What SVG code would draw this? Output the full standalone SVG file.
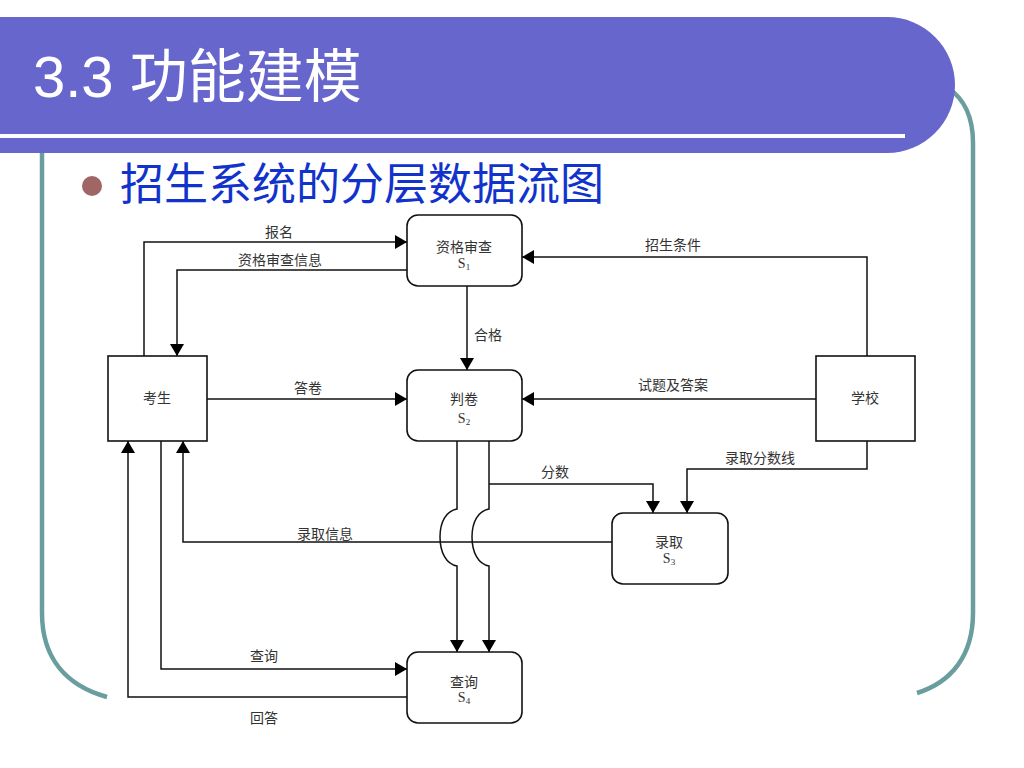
<svg xmlns="http://www.w3.org/2000/svg" width="1024" height="768" viewBox="0 0 1024 768">
<defs>
<marker id="ah" viewBox="0 0 12 14" refX="12" refY="7" markerWidth="12" markerHeight="14" markerUnits="userSpaceOnUse" orient="auto">
<path d="M0,0 L12,7 L0,14 Z" fill="#000"/>
</marker>
<style>
.frame{fill:none;stroke:#6A9E9E;stroke-width:4.5}
.box{fill:#fff;stroke:#111;stroke-width:1.6}
.ln{fill:none;stroke:#111;stroke-width:1.5}
.arr{fill:none;stroke:#111;stroke-width:1.5;marker-end:url(#ah)}
.t{font-family:"Noto Sans CJK SC","Liberation Serif",serif;font-size:14px;fill:#333;text-anchor:middle}
.tl{font-family:"Noto Sans CJK SC","Liberation Serif",serif;font-size:14px;fill:#333}
.s{font-family:"Liberation Serif",serif;font-size:14px;fill:#333;text-anchor:middle}
.sub{font-size:9px}
</style>
</defs>
<rect width="1024" height="768" fill="#fff"/>
<g id="slide">
<path class="frame" d="M42,150 V613 C42,660 68,686 107,697"/>
<path class="frame" d="M948,88 C966,100 973,120 973,143 V613 C973,655 952,682 917,693"/>
<path d="M0,17 H887 A68,68 0 0 1 887,153 H0 Z" fill="#6666CC"/>
<line x1="0" y1="136" x2="905" y2="136" stroke="#fff" stroke-width="4"/>
<text x="33" y="97" font-family="'Liberation Sans','Noto Sans CJK SC',sans-serif" font-size="58" fill="#fff">3.3 功能建模</text>
<circle cx="92" cy="186" r="10" fill="#A06666"/>
<text x="120" y="200" font-family="'Noto Sans CJK SC',sans-serif" font-size="44" fill="#1133CC">招生系统的分层数据流图</text>
</g>
<g id="connectors">
<path class="arr" d="M144,356 V242 H407"/>
<path class="arr" d="M407,270 H177 V356"/>
<path class="arr" d="M467,286 V370"/>
<path class="arr" d="M207,399 H407"/>
<path class="arr" d="M867,356 V257 H522"/>
<path class="arr" d="M816,399 H522"/>
<path class="arr" d="M867,441 V469 H687 V513"/>
<path class="arr" d="M489,484 H653 V513"/>
<path class="arr" d="M612,542 H183 V441"/>
<path class="arr" d="M161,441 V669 H407"/>
<path class="arr" d="M407,697 H128 V441"/>
<path class="arr" d="M457,441 V509 C446,511 440,522 440,537 C440,552 446,564 457,566 V652"/>
<path class="arr" d="M489,441 V509 C478,511 472,522 472,537 C472,552 478,564 489,566 V652"/>
<text class="t" x="279" y="237">报名</text>
<text class="t" x="280" y="265">资格审查信息</text>
<text class="tl" x="474" y="340">合格</text>
<text class="t" x="308" y="393">答卷</text>
<text class="t" x="673" y="250">招生条件</text>
<text class="t" x="673" y="390">试题及答案</text>
<text class="t" x="760" y="463">录取分数线</text>
<text class="t" x="555" y="477">分数</text>
<text class="t" x="325" y="539">录取信息</text>
<text class="t" x="264" y="661">查询</text>
<text class="t" x="264" y="723">回答</text>
</g>
<g id="n-kaosheng">
<rect class="box" x="108" y="356" width="99" height="85"/>
<text class="t" x="157" y="403">考生</text>
</g>
<g id="n-xuexiao">
<rect class="box" x="816" y="356" width="99" height="85"/>
<text class="t" x="865" y="403">学校</text>
</g>
<g id="n-s1">
<rect class="box" x="407" y="215" width="115" height="71" rx="11"/>
<text class="t" x="464" y="252">资格审查</text>
<text class="s" x="464" y="268">S<tspan class="sub" dy="2">1</tspan></text>
</g>
<g id="n-s2">
<rect class="box" x="407" y="370" width="115" height="71" rx="11"/>
<text class="t" x="464" y="404">判卷</text>
<text class="s" x="464" y="423">S<tspan class="sub" dy="2">2</tspan></text>
</g>
<g id="n-s3">
<rect class="box" x="612" y="513" width="116" height="71" rx="11"/>
<text class="t" x="669" y="547">录取</text>
<text class="s" x="669" y="563">S<tspan class="sub" dy="2">3</tspan></text>
</g>
<g id="n-s4">
<rect class="box" x="407" y="652" width="115" height="71" rx="11"/>
<text class="t" x="464" y="687">查询</text>
<text class="s" x="464" y="702">S<tspan class="sub" dy="2">4</tspan></text>
</g>
</svg>
